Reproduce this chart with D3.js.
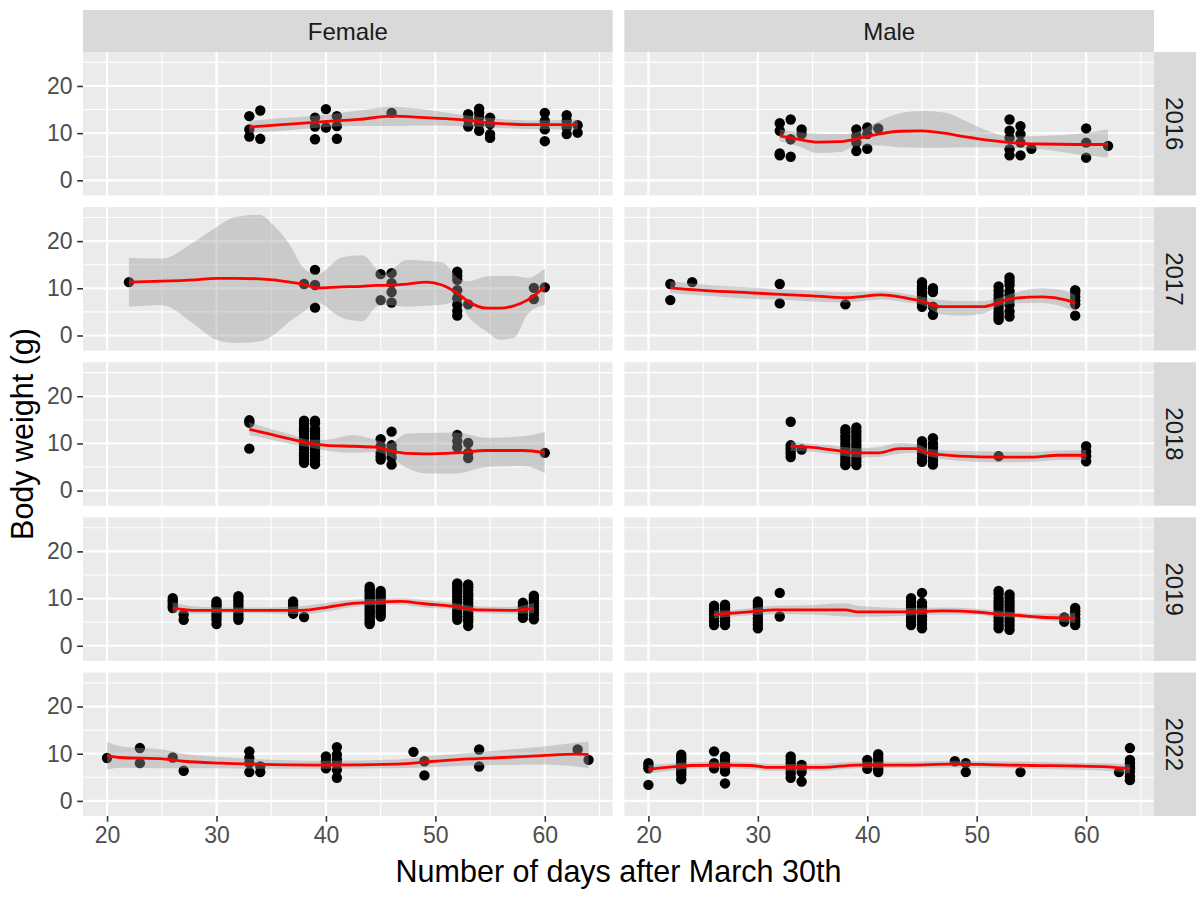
<!DOCTYPE html>
<html><head><meta charset="utf-8">
<script src="https://cdn.jsdelivr.net/npm/d3@7"></script>
<style>
body{margin:0;background:#fff;}
text{font-family:"Liberation Sans",Arial,sans-serif;}
</style></head>
<body><svg id="chart" width="1200" height="899"></svg>
<script>
// ---------- data ----------
const sexes = ["Female", "Male"];
const years = [2016, 2017, 2018, 2019, 2022];
const xTicks = [20, 30, 40, 50, 60];
const xMinor = [25, 35, 45, 55, 65];
const yTicks = [0, 10, 20];
const yMinor = [5, 15, 25];
const xTitle = "Number of days after March 30th";
const yTitle = "Body weight (g)";

// points: [day, weight]
const pts_Female_2016 = [[33,13.6],[33,10.8],[33,9.3],[34,14.8],[34,8.8],[39,13.3],[39,11.4],[39,8.7],[40,15.1],[40,11.2],[41,13.6],[41,11.5],[41,8.8],[46,14.3],[53,14.0],[53,12.9],[53,11.4],[54,15.2],[54,14.3],[54,13.3],[54,11.9],[54,10.5],[55,13.3],[55,11.9],[55,9.8],[55,9.0],[60,14.3],[60,12.6],[60,10.8],[60,8.3],[62,13.8],[62,12.6],[62,11.2],[62,9.8],[63,11.7],[63,10.1]];
const pts_Male_2016 = [[32,12.1],[32,10.5],[32,5.7],[32,5.3],[33,12.9],[33,8.7],[33,5.0],[34,10.8],[34,9.8],[39,10.8],[39,9.4],[39,8.0],[39,6.2],[40,11.2],[40,9.8],[40,6.7],[41,11.0],[53,12.9],[53,10.5],[53,9.0],[53,6.6],[53,5.3],[54,11.5],[54,9.8],[54,8.0],[54,5.3],[55,6.7],[60,11.0],[60,8.0],[60,4.8],[62,7.3]];
const pts_Female_2017 = [[22,11.3],[38,10.9],[39,13.9],[39,10.7],[39,5.9],[45,13.0],[45,7.5],[46,13.2],[46,11.1],[46,9.2],[46,7.0],[52,13.5],[52,12.7],[52,11.8],[52,9.6],[52,7.9],[52,6.5],[52,5.2],[52,4.2],[53,6.6],[59,10.1],[59,7.7],[60,10.2]];
const pts_Male_2017 = [[22,10.9],[22,7.5],[24,11.3],[32,10.9],[32,6.8],[38,6.6],[45,11.3],[45,10.5],[45,10.0],[45,9.4],[45,8.9],[45,8.2],[45,7.5],[45,6.8],[45,6.1],[46,10.0],[46,9.2],[46,6.1],[46,4.4],[52,10.4],[52,9.5],[52,8.6],[52,7.8],[52,7.2],[52,6.5],[52,5.8],[52,5.0],[52,4.4],[52,3.8],[52,3.3],[53,12.3],[53,11.5],[53,10.7],[53,9.4],[53,8.5],[53,7.5],[53,6.5],[53,5.1],[53,4.0],[59,9.6],[59,9.0],[59,8.2],[59,7.4],[59,6.6],[59,4.2]];
const pts_Female_2018 = [[33,14.9],[33,14.4],[33,8.9],[38,14.8],[38,14.2],[38,13.7],[38,13.1],[38,12.6],[38,12.0],[38,11.2],[38,10.5],[38,9.9],[38,9.3],[38,8.7],[38,8.0],[38,7.5],[38,6.9],[38,6.4],[38,5.9],[39,14.8],[39,14.2],[39,13.1],[39,12.5],[39,11.8],[39,11.2],[39,10.5],[39,9.9],[39,9.3],[39,8.7],[39,8.0],[39,7.3],[39,6.5],[39,5.6],[45,10.9],[45,9.4],[45,8.0],[45,7.3],[45,6.6],[46,12.5],[46,9.6],[46,8.8],[46,8.0],[46,7.0],[46,5.5],[52,11.8],[52,10.5],[52,9.2],[53,10.1],[53,8.0],[53,6.9],[60,8.0]];
const pts_Male_2018 = [[33,14.6],[33,9.6],[33,9.0],[33,8.4],[33,7.8],[33,7.1],[34,8.7],[38,13.0],[38,12.3],[38,11.5],[38,10.8],[38,10.0],[38,9.3],[38,8.6],[38,7.9],[38,7.2],[38,6.5],[38,5.8],[38,5.4],[39,13.4],[39,12.6],[39,11.9],[39,11.2],[39,10.5],[39,9.8],[39,9.1],[39,8.4],[39,7.6],[39,6.9],[39,6.2],[39,5.4],[45,10.5],[45,9.6],[45,8.7],[45,7.8],[45,6.9],[45,6.1],[46,11.1],[46,10.0],[46,9.1],[46,8.2],[46,7.3],[46,6.4],[46,5.5],[52,7.3],[60,9.4],[60,8.3],[60,7.3],[60,6.2]];
const pts_Female_2019 = [[26,10.1],[26,9.6],[26,9.1],[26,8.5],[26,8.0],[27,6.6],[27,5.5],[30,9.4],[30,8.8],[30,8.4],[30,7.6],[30,6.9],[30,6.2],[30,5.5],[30,4.6],[32,10.5],[32,9.9],[32,9.4],[32,8.7],[32,8.0],[32,7.3],[32,6.6],[32,6.0],[32,5.5],[37,9.4],[37,8.7],[37,8.0],[37,7.4],[37,6.8],[38,6.1],[44,12.5],[44,12.0],[44,11.5],[44,11.0],[44,10.5],[44,10.0],[44,9.5],[44,9.0],[44,8.5],[44,8.0],[44,7.5],[44,7.0],[44,6.5],[44,6.0],[44,5.5],[44,5.0],[44,4.6],[45,11.6],[45,11.0],[45,10.5],[45,10.0],[45,9.4],[45,8.9],[45,8.4],[45,7.8],[45,7.3],[45,6.8],[45,6.2],[52,13.2],[52,12.8],[52,12.3],[52,11.7],[52,11.2],[52,10.5],[52,9.8],[52,9.1],[52,8.4],[52,7.6],[52,6.9],[52,6.2],[52,5.5],[53,13.0],[53,12.4],[53,11.8],[53,11.1],[53,10.5],[53,9.8],[53,9.1],[53,8.4],[53,7.6],[53,6.9],[53,6.2],[53,5.6],[53,5.1],[53,4.2],[58,9.1],[58,8.4],[58,7.6],[58,6.8],[58,5.9],[59,10.6],[59,10.1],[59,9.6],[59,9.0],[59,8.4],[59,7.7],[59,7.1],[59,6.4],[59,5.6]];
const pts_Male_2019 = [[26,8.5],[26,7.9],[26,7.3],[26,6.6],[26,5.9],[26,5.2],[26,4.4],[27,8.7],[27,8.0],[27,7.3],[27,6.6],[27,5.9],[27,5.2],[27,4.4],[30,9.4],[30,8.7],[30,8.0],[30,7.3],[30,6.6],[30,5.8],[30,5.1],[30,4.4],[30,3.7],[32,11.2],[32,6.2],[44,10.1],[44,9.4],[44,8.7],[44,8.0],[44,7.3],[44,6.6],[44,5.9],[44,5.2],[44,4.4],[45,11.2],[45,9.1],[45,8.4],[45,7.6],[45,6.9],[45,6.2],[45,5.5],[45,4.6],[45,3.7],[52,11.6],[52,11.0],[52,10.1],[52,9.4],[52,8.7],[52,8.0],[52,7.3],[52,6.6],[52,5.9],[52,5.2],[52,4.4],[52,3.7],[53,10.9],[53,10.2],[53,9.4],[53,8.7],[53,8.0],[53,7.3],[53,6.6],[53,5.8],[53,5.1],[53,4.3],[53,3.4],[58,6.0],[58,5.1],[59,8.0],[59,7.3],[59,6.6],[59,5.8],[59,5.1],[59,4.4]];
const pts_Female_2022 = [[20,9.1],[23,11.2],[23,8.0],[26,9.2],[27,6.4],[33,10.5],[33,9.1],[33,8.0],[33,6.1],[34,7.3],[34,6.1],[40,9.4],[40,8.4],[40,7.6],[40,6.9],[41,11.4],[41,9.8],[41,8.8],[41,8.0],[41,6.6],[41,4.9],[48,10.4],[49,8.4],[49,5.4],[54,10.9],[54,7.3],[63,10.9],[64,8.7]];
const pts_Male_2022 = [[20,8.0],[20,7.4],[20,6.9],[20,3.4],[23,9.8],[23,9.2],[23,8.7],[23,8.1],[23,7.6],[23,7.1],[23,6.6],[23,6.0],[23,5.5],[23,4.6],[26,10.5],[26,8.0],[26,6.9],[27,9.4],[27,8.7],[27,8.0],[27,7.1],[27,6.2],[27,3.7],[33,9.4],[33,8.7],[33,8.0],[33,7.3],[33,6.6],[33,5.8],[33,4.9],[34,7.6],[34,6.8],[34,6.1],[34,4.1],[40,8.7],[40,7.8],[40,6.8],[41,9.9],[41,9.2],[41,8.5],[41,7.9],[41,7.3],[41,6.7],[41,6.1],[48,8.4],[49,8.0],[49,6.1],[54,6.1],[63,6.1],[64,11.2],[64,8.7],[64,8.0],[64,7.3],[64,6.9],[64,6.2],[64,5.2],[64,4.4]];

// loess fits: [day, fit, lower, upper]
const fit_Female_2016 = [[33,11.3,10.1,12.6],[36,11.8,10.5,13.2],[39.5,12.4,11.2,13.8],[43,12.9,11.5,14.8],[46,13.6,11.5,15.6],[49,13.3,11.6,15.0],[52,12.9,11.5,14.0],[55,12.2,11.2,13.2],[58.5,11.8,10.9,12.7],[63,11.8,10.8,12.9]];
const fit_Male_2016 = [[32,9.4,8.3,10.8],[33.5,8.8,7.4,10.3],[35.5,8.1,5.8,9.9],[37.5,8.2,6.0,9.8],[39,8.8,7.3,10.2],[41,9.8,7.4,12.5],[43,10.4,7.0,14.2],[45,10.5,6.9,14.7],[47,10.0,6.9,14.4],[49,9.2,7.0,12.6],[51,8.5,7.0,10.5],[53,8.0,6.9,9.3],[56,7.7,6.6,9.4],[59,7.6,5.6,9.8],[62,7.6,4.8,10.8]];
const fit_Female_2017 = [[22,11.3,6.1,16.5],[25,11.5,6.4,16.3],[28,11.8,2.3,19.9],[30,12.1,-0.9,23.0],[31.7,12.1,-1.6,25.1],[33.9,12.0,-1.3,25.6],[35.2,11.8,0.1,23.4],[36.7,11.3,3.0,19.2],[38,10.8,5.1,14.2],[39.2,10.1,7.0,13.0],[41.4,10.3,3.8,16.5],[43.3,10.4,3.0,17.0],[44.6,10.6,6.1,14.2],[45.2,10.6,6.5,12.8],[47.4,10.9,6.1,16.0],[49.2,11.3,6.3,15.8],[50.6,10.7,6.5,15.5],[52.1,8.8,7.2,12.1],[53,7.2,4.0,11.5],[54.7,5.8,0.8,12.5],[55.9,5.8,-0.9,12.6],[57.2,6.3,-0.5,12.6],[58.4,7.5,4.4,12.2],[60,10.3,6.5,14.2]];
const fit_Male_2017 = [[22,10.1,9.0,11.5],[26,9.4,8.3,10.6],[29,9.1,7.8,10.2],[32,8.7,7.6,9.8],[35,8.4,7.2,9.5],[38,8.0,7.0,9.2],[41.3,8.6,7.6,9.4],[43.6,7.9,7.0,8.8],[45,7.3,6.5,8.2],[46.7,6.1,4.5,7.5],[48.5,6.1,4.2,7.3],[50.5,6.1,4.6,7.3],[51.8,6.8,6.0,7.8],[53.4,7.9,6.8,9.0],[56,8.2,6.9,10.0],[58.2,7.5,5.8,9.4],[59,6.8,5.0,8.6]];
const fit_Female_2018 = [[33,13.0,11.8,14.5],[35,11.9,10.8,13.0],[37,10.8,9.8,11.8],[38.5,10.0,9.2,10.8],[40,9.6,8.5,10.8],[42.5,9.4,8.0,11.8],[44.5,9.2,8.2,10.8],[45.8,8.5,7.3,10.0],[47.4,7.9,4.8,12.1],[49,7.8,3.7,12.2],[51.8,8.0,3.6,12.3],[54.7,8.5,5.0,11.2],[58,8.5,5.2,11.5],[60,8.0,3.7,12.5]];
const fit_Male_2018 = [[33,9.4,8.4,10.4],[34.7,9.2,8.3,10.0],[36.6,8.7,7.8,9.6],[39.1,8.0,7.0,9.0],[41,8.0,7.1,9.2],[42.9,8.9,7.8,10.1],[44.5,8.9,8.0,9.9],[45.5,8.0,7.3,8.9],[48.6,7.3,6.3,8.4],[51.8,7.1,6.0,8.3],[55,7.1,6.1,8.2],[57.5,7.5,6.5,8.5],[60,7.5,6.5,8.6]];
const fit_Female_2019 = [[26,8.0,7.0,9.2],[28.2,7.5,6.8,8.3],[31,7.5,6.9,8.1],[34,7.5,6.9,8.1],[37.7,7.5,6.7,8.4],[40.2,8.2,7.3,9.1],[42.1,8.9,8.1,9.7],[44.3,9.2,8.6,9.9],[46.8,9.4,8.7,10.1],[49,8.9,8.1,9.7],[51.5,8.4,7.8,9.1],[54,7.6,7.0,8.3],[56.9,7.5,6.8,8.2],[59,8.0,6.9,9.1]];
const fit_Male_2019 = [[26,6.6,5.8,7.4],[27.7,6.9,6.2,7.6],[29.6,7.3,6.5,8.0],[31.5,7.6,6.7,8.5],[34.7,7.6,6.6,8.6],[38,7.6,6.2,9.0],[39.1,7.2,6.1,8.5],[43.9,7.2,6.4,8.0],[47,7.4,6.6,8.1],[50.2,7.1,6.5,7.8],[51.8,6.7,6.1,7.4],[53.4,6.5,6.0,7.1],[55.6,6.1,5.5,6.8],[59,5.8,4.8,7.0]];
const fit_Female_2022 = [[20,9.6,6.6,12.5],[21.2,9.2,7.0,11.6],[25.1,8.9,6.9,10.9],[27,8.4,6.9,10.0],[30.4,8.0,6.9,9.3],[33.3,7.8,6.8,8.9],[39.6,7.6,6.8,8.5],[46.5,7.8,6.9,8.8],[49.9,8.4,7.2,9.6],[53.1,8.9,7.5,10.2],[56.2,9.2,7.6,10.8],[59.7,9.6,7.7,11.5],[62.8,9.9,7.3,12.3],[64,9.8,6.9,12.6]];
const fit_Male_2022 = [[20,6.7,5.8,7.6],[21.7,7.1,6.3,7.9],[23.9,7.5,6.8,8.2],[26.5,7.6,6.9,8.3],[29.3,7.5,6.7,8.2],[31,7.1,6.4,7.8],[35.9,7.1,6.4,7.9],[39.1,7.6,6.9,8.3],[43.9,7.6,7.0,8.3],[47.7,7.8,7.1,8.5],[51,7.7,7.0,8.4],[55,7.5,6.8,8.3],[59,7.4,6.6,8.1],[62,7.2,6.4,8.0],[64,6.8,5.8,7.7]];

const pointsBy = {
  Female: {2016: pts_Female_2016, 2017: pts_Female_2017, 2018: pts_Female_2018, 2019: pts_Female_2019, 2022: pts_Female_2022},
  Male:   {2016: pts_Male_2016,   2017: pts_Male_2017,   2018: pts_Male_2018,   2019: pts_Male_2019,   2022: pts_Male_2022}
};
const fitsBy = {
  Female: {2016: fit_Female_2016, 2017: fit_Female_2017, 2018: fit_Female_2018, 2019: fit_Female_2019, 2022: fit_Female_2022},
  Male:   {2016: fit_Male_2016,   2017: fit_Male_2017,   2018: fit_Male_2018,   2019: fit_Male_2019,   2022: fit_Male_2022}
};

// ---------- layout ----------
const svg = d3.select("#chart");
const mLeft = 83, mRight = 1154, mTop = 52, mBottom = 816;
const gap = 11.7, stripSize = 42;
const pw = (mRight - mLeft - gap) / 2;
const ph = (mBottom - mTop - gap * 4) / 5;

const x = d3.scaleLinear().domain([17.8, 66.2]).range([0, pw]);
const y = d3.scaleLinear().domain([-3.2, 27.2]).range([ph, 0]);

const tickFont = 23, stripFont = 24, titleFont = 30.5;
const FONT = '"Liberation Sans",Arial,sans-serif';

svg.append("defs").append("clipPath").attr("id", "pclip")
  .append("rect").attr("width", pw).attr("height", ph);

sexes.forEach((sex, c) => {
  const px = mLeft + c * (pw + gap);
  svg.append("rect").attr("x", px).attr("y", mTop - stripSize).attr("width", pw).attr("height", stripSize).attr("fill", "#D9D9D9");
  svg.append("text").attr("x", px + pw / 2).attr("y", mTop - stripSize / 2).attr("dy", "0.36em")
    .attr("text-anchor", "middle").attr("font-size", stripFont).attr("fill", "#1A1A1A").text(sex);

  years.forEach((yr, r) => {
    const py = mTop + r * (ph + gap);
    const g = svg.append("g").attr("transform", `translate(${px},${py})`);
    g.append("rect").attr("width", pw).attr("height", ph).attr("fill", "#EBEBEB");
    g.selectAll(".xmin").data(xMinor).join("line")
      .attr("x1", d => x(d)).attr("x2", d => x(d)).attr("y1", 0).attr("y2", ph)
      .attr("stroke", "#fff").attr("stroke-width", 1.1);
    g.selectAll(".ymin").data(yMinor).join("line")
      .attr("x1", 0).attr("x2", pw).attr("y1", d => y(d)).attr("y2", d => y(d))
      .attr("stroke", "#fff").attr("stroke-width", 1.1);
    g.selectAll(".xmaj").data(xTicks).join("line")
      .attr("x1", d => x(d)).attr("x2", d => x(d)).attr("y1", 0).attr("y2", ph)
      .attr("stroke", "#fff").attr("stroke-width", 2.2);
    g.selectAll(".ymaj").data(yTicks).join("line")
      .attr("x1", 0).attr("x2", pw).attr("y1", d => y(d)).attr("y2", d => y(d))
      .attr("stroke", "#fff").attr("stroke-width", 2.2);

    const inner = g.append("g").attr("clip-path", "url(#pclip)");
    inner.selectAll("circle").data(pointsBy[sex][yr]).join("circle")
      .attr("cx", d => x(d[0])).attr("cy", d => y(d[1])).attr("r", 5.2).attr("fill", "#000");

    const fit = fitsBy[sex][yr];
    const area = d3.area().x(d => x(d[0])).y0(d => y(d[2])).y1(d => y(d[3])).curve(d3.curveMonotoneX);
    inner.append("path").datum(fit).attr("d", area).attr("fill", "#999999").attr("fill-opacity", 0.4);
    const line = d3.line().x(d => x(d[0])).y(d => y(d[1])).curve(d3.curveMonotoneX);
    inner.append("path").datum(fit).attr("d", line).attr("fill", "none").attr("stroke", "#FF0000").attr("stroke-width", 2.8);

    if (c === 0) {
      const ya = svg.append("g").attr("transform", `translate(${px},${py})`)
        .call(d3.axisLeft(y).tickValues(yTicks).tickSize(5.8).tickPadding(4.6));
      ya.select(".domain").remove();
      ya.selectAll(".tick line").attr("stroke", "#333333").attr("stroke-width", 1.6);
      ya.selectAll(".tick text").attr("fill", "#4D4D4D").attr("font-size", tickFont).attr("font-family", FONT);
    }
    if (c === 1) {
      svg.append("rect").attr("x", mRight).attr("y", py).attr("width", stripSize).attr("height", ph).attr("fill", "#D9D9D9");
      svg.append("text").attr("transform", `translate(${mRight + stripSize / 2},${py + ph / 2}) rotate(90)`)
        .attr("dy", "0.36em").attr("text-anchor", "middle").attr("font-size", stripFont).attr("fill", "#1A1A1A").text(yr);
    }
  });

  const xa = svg.append("g").attr("transform", `translate(${px},${mBottom})`)
    .call(d3.axisBottom(x).tickValues(xTicks).tickSize(5.8).tickPadding(4.6));
  xa.select(".domain").remove();
  xa.selectAll(".tick line").attr("stroke", "#333333").attr("stroke-width", 1.6);
  xa.selectAll(".tick text").attr("fill", "#4D4D4D").attr("font-size", tickFont).attr("font-family", FONT);
});

svg.append("text").attr("x", (mLeft + mRight) / 2).attr("y", 882).attr("text-anchor", "middle")
  .attr("font-size", titleFont).attr("fill", "#000").text(xTitle);
svg.append("text").attr("transform", `translate(33,${(mTop + mBottom) / 2}) rotate(-90)`)
  .attr("text-anchor", "middle").attr("font-size", titleFont).attr("fill", "#000").text(yTitle);
</script></body></html>
